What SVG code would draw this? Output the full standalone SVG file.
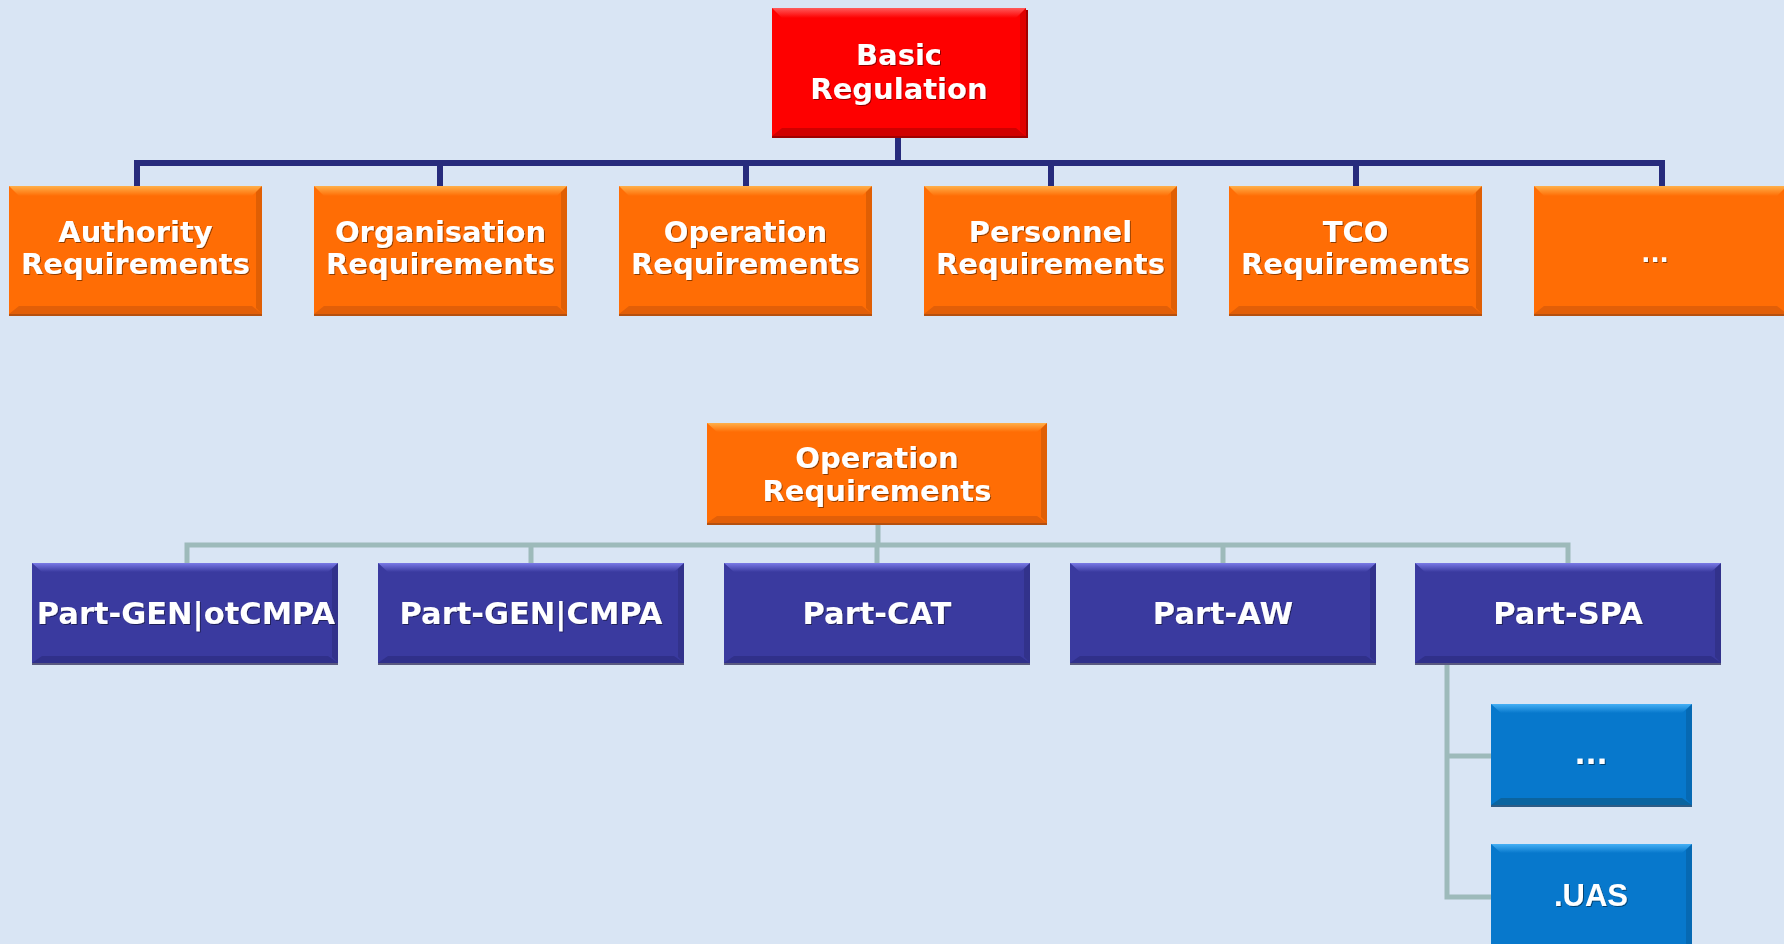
<svg xmlns="http://www.w3.org/2000/svg" width="1784" height="944" viewBox="0 0 1784 944">
<style>
.t{font-family:"DejaVu Sans","Verdana",sans-serif;font-weight:bold;font-size:29px;fill:#ffffff;text-anchor:middle;filter:url(#ts)}
.tp{font-size:30.5px}
.ta{font-family:"Liberation Sans",Arial,sans-serif;font-weight:bold;font-size:31px;fill:#ffffff;text-anchor:middle;filter:url(#ts)}
.c1{fill:none;stroke:#272b7c;stroke-width:6}
.c2{fill:none;stroke:#9dbaba;stroke-width:5}
.red{fill:#fe0000}.red-t{fill:url(#gRedT)}.red-b{fill:#d00000}.red-s{fill:#a00000}
.org{fill:#ff6d05}.org-t{fill:url(#gOrgT)}.org-b{fill:#e25f08}.org-s{fill:#b5500f}
.pur{fill:#3a3a9f}.pur-t{fill:url(#gPurT)}.pur-b{fill:#30308a}.pur-s{fill:#5a5a80}
.blu{fill:#0778cc}.blu-t{fill:url(#gBluT)}.blu-b{fill:#0b649f}.blu-s{fill:#2d5c86}
.rs{fill:#000;opacity:0.12}
</style>
<defs>
<filter id="ts" x="-10%" y="-30%" width="120%" height="160%"><feDropShadow dx="1" dy="1" stdDeviation="0.6" flood-color="#000" flood-opacity="0.45"/></filter>
<linearGradient id="gRedT" x1="0" y1="0" x2="0" y2="1"><stop offset="0" stop-color="#ff5a5a"/><stop offset="1" stop-color="#fe0000"/></linearGradient>
<linearGradient id="gOrgT" x1="0" y1="0" x2="0" y2="1"><stop offset="0" stop-color="#ffb04a"/><stop offset="1" stop-color="#ff6d05"/></linearGradient>
<linearGradient id="gPurT" x1="0" y1="0" x2="0" y2="1"><stop offset="0" stop-color="#7a7ae6"/><stop offset="1" stop-color="#3a3a9f"/></linearGradient>
<linearGradient id="gBluT" x1="0" y1="0" x2="0" y2="1"><stop offset="0" stop-color="#45b0f5"/><stop offset="1" stop-color="#0778cc"/></linearGradient>
</defs>
<rect width="1784" height="944" fill="#d9e5f4"/>

<g id="connectors">
<path class="c1" d="M898 136 V163 M137 186 V163 H1662 V186 M440 163 V186 M746 163 V186 M1051 163 V186 M1356 163 V186"/>
<path class="c2" d="M878 523 V545 M187 563 V545 H1568 V563 M531 545 V563 M877 545 V563 M1223 545 V563 M1447 663 V897 H1491 M1447 756 H1491"/>
</g>

<g id="basic-regulation">
<rect class="red-s" x="772" y="10" width="256" height="128"/>
<rect class="red" x="772" y="8" width="254" height="128"/>
<polygon class="red-t" points="772,8 1026,8 1016,18 782,18"/>
<polygon class="red-b" points="772,136 1026,136 1016,128 782,128"/>
<polygon class="rs" points="1026,8 1026,136 1020,130 1020,14"/>
<text class="t" x="899" y="65">Basic</text>
<text class="t" x="899" y="99">Regulation</text>
</g>

<g id="authority-requirements">
<rect class="org-s" x="9" y="188" width="253" height="128"/>
<rect class="org" x="9" y="186" width="253" height="128"/>
<polygon class="org-t" points="9,186 262,186 252,196 19,196"/>
<polygon class="org-b" points="9,314 262,314 252,306 19,306"/>
<polygon class="rs" points="262,186 262,314 256,308 256,192"/>
<text class="t" x="135.5" y="242">Authority</text>
<text class="t" x="135.5" y="274">Requirements</text>
</g>

<g id="organisation-requirements">
<rect class="org-s" x="314" y="188" width="253" height="128"/>
<rect class="org" x="314" y="186" width="253" height="128"/>
<polygon class="org-t" points="314,186 567,186 557,196 324,196"/>
<polygon class="org-b" points="314,314 567,314 557,306 324,306"/>
<polygon class="rs" points="567,186 567,314 561,308 561,192"/>
<text class="t" x="440.5" y="242">Organisation</text>
<text class="t" x="440.5" y="274">Requirements</text>
</g>

<g id="operation-requirements">
<rect class="org-s" x="619" y="188" width="253" height="128"/>
<rect class="org" x="619" y="186" width="253" height="128"/>
<polygon class="org-t" points="619,186 872,186 862,196 629,196"/>
<polygon class="org-b" points="619,314 872,314 862,306 629,306"/>
<polygon class="rs" points="872,186 872,314 866,308 866,192"/>
<text class="t" x="745.5" y="242">Operation</text>
<text class="t" x="745.5" y="274">Requirements</text>
</g>

<g id="personnel-requirements">
<rect class="org-s" x="924" y="188" width="253" height="128"/>
<rect class="org" x="924" y="186" width="253" height="128"/>
<polygon class="org-t" points="924,186 1177,186 1167,196 934,196"/>
<polygon class="org-b" points="924,314 1177,314 1167,306 934,306"/>
<polygon class="rs" points="1177,186 1177,314 1171,308 1171,192"/>
<text class="t" x="1050.5" y="242">Personnel</text>
<text class="t" x="1050.5" y="274">Requirements</text>
</g>

<g id="tco-requirements">
<rect class="org-s" x="1229" y="188" width="253" height="128"/>
<rect class="org" x="1229" y="186" width="253" height="128"/>
<polygon class="org-t" points="1229,186 1482,186 1472,196 1239,196"/>
<polygon class="org-b" points="1229,314 1482,314 1472,306 1239,306"/>
<polygon class="rs" points="1482,186 1482,314 1476,308 1476,192"/>
<text class="t" x="1355.5" y="242">TCO</text>
<text class="t" x="1355.5" y="274">Requirements</text>
</g>

<g id="more-requirements">
<rect class="org-s" x="1534" y="188" width="253" height="128"/>
<rect class="org" x="1534" y="186" width="253" height="128"/>
<polygon class="org-t" points="1534,186 1787,186 1777,196 1544,196"/>
<polygon class="org-b" points="1534,314 1787,314 1777,306 1544,306"/>
<text class="t" x="1655" y="262" style="font-size:24px">...</text>
</g>

<g id="operation-requirements-detail">
<rect class="org-s" x="707" y="425" width="340" height="100"/>
<rect class="org" x="707" y="423" width="340" height="100"/>
<polygon class="org-t" points="707,423 1047,423 1037,432 717,432"/>
<polygon class="org-b" points="707,523 1047,523 1037,516 717,516"/>
<polygon class="rs" points="1047,423 1047,523 1041,517 1041,429"/>
<text class="t" x="877" y="468">Operation</text>
<text class="t" x="877" y="501">Requirements</text>
</g>

<g id="part-gen-otcmpa">
<rect class="pur-s" x="32" y="565" width="306" height="100"/>
<rect class="pur" x="32" y="563" width="306" height="100"/>
<polygon class="pur-t" points="32,563 338,563 328,572 42,572"/>
<polygon class="pur-b" points="32,663 338,663 328,656 42,656"/>
<polygon class="rs" points="338,563 338,663 332,657 332,569"/>
<text class="t tp" x="186" y="624">Part-GEN|otCMPA</text>
</g>

<g id="part-gen-cmpa">
<rect class="pur-s" x="378" y="565" width="306" height="100"/>
<rect class="pur" x="378" y="563" width="306" height="100"/>
<polygon class="pur-t" points="378,563 684,563 674,572 388,572"/>
<polygon class="pur-b" points="378,663 684,663 674,656 388,656"/>
<polygon class="rs" points="684,563 684,663 678,657 678,569"/>
<text class="t tp" x="531" y="624">Part-GEN|CMPA</text>
</g>

<g id="part-cat">
<rect class="pur-s" x="724" y="565" width="306" height="100"/>
<rect class="pur" x="724" y="563" width="306" height="100"/>
<polygon class="pur-t" points="724,563 1030,563 1020,572 734,572"/>
<polygon class="pur-b" points="724,663 1030,663 1020,656 734,656"/>
<polygon class="rs" points="1030,563 1030,663 1024,657 1024,569"/>
<text class="t tp" x="877" y="624">Part-CAT</text>
</g>

<g id="part-aw">
<rect class="pur-s" x="1070" y="565" width="306" height="100"/>
<rect class="pur" x="1070" y="563" width="306" height="100"/>
<polygon class="pur-t" points="1070,563 1376,563 1366,572 1080,572"/>
<polygon class="pur-b" points="1070,663 1376,663 1366,656 1080,656"/>
<polygon class="rs" points="1376,563 1376,663 1370,657 1370,569"/>
<text class="t tp" x="1223" y="624">Part-AW</text>
</g>

<g id="part-spa">
<rect class="pur-s" x="1415" y="565" width="306" height="100"/>
<rect class="pur" x="1415" y="563" width="306" height="100"/>
<polygon class="pur-t" points="1415,563 1721,563 1711,572 1425,572"/>
<polygon class="pur-b" points="1415,663 1721,663 1711,656 1425,656"/>
<polygon class="rs" points="1721,563 1721,663 1715,657 1715,569"/>
<text class="t tp" x="1568" y="624">Part-SPA</text>
</g>

<g id="spa-more">
<rect class="blu-s" x="1491" y="706" width="201" height="101"/>
<rect class="blu" x="1491" y="704" width="201" height="101"/>
<polygon class="blu-t" points="1491,704 1692,704 1682,713 1501,713"/>
<polygon class="blu-b" points="1491,805 1692,805 1682,798 1501,798"/>
<polygon class="rs" points="1692,704 1692,805 1686,799 1686,710"/>
<text class="t" x="1591" y="764">...</text>
</g>

<g id="spa-uas">
<rect class="blu-s" x="1491" y="846" width="201" height="101"/>
<rect class="blu" x="1491" y="844" width="201" height="101"/>
<polygon class="blu-t" points="1491,844 1692,844 1682,853 1501,853"/>
<polygon class="rs" points="1692,844 1692,944 1686,944 1686,850"/>
<text class="ta" x="1591" y="906">.UAS</text>
</g>
</svg>
